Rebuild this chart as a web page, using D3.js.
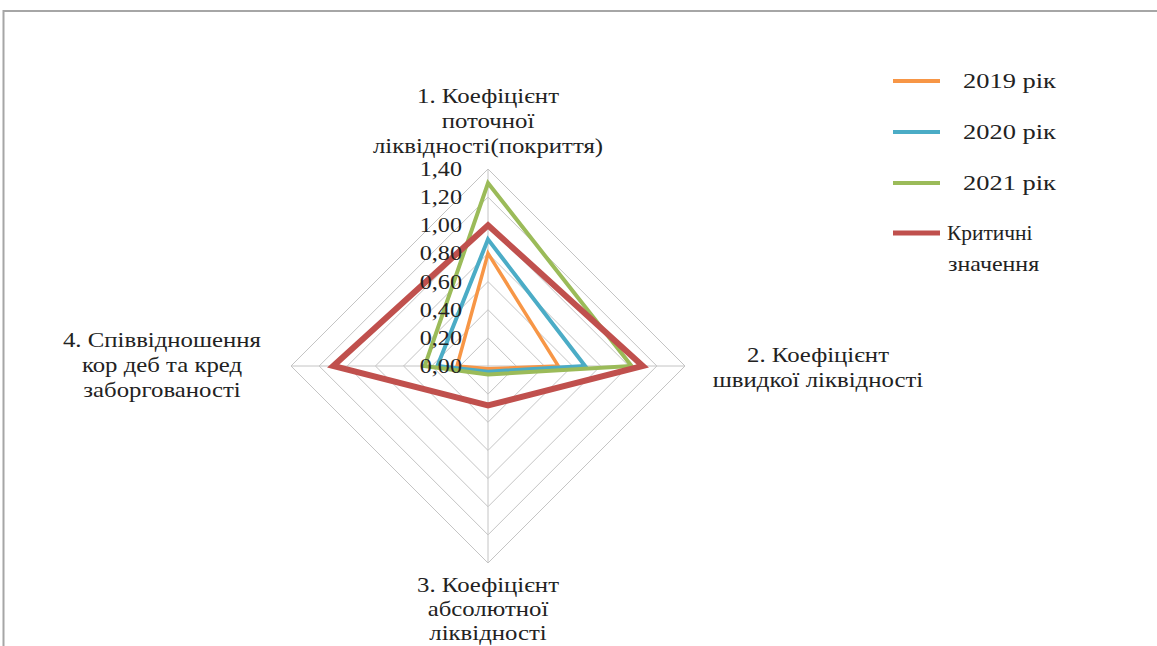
<!DOCTYPE html>
<html><head><meta charset="utf-8">
<script src="https://cdn.jsdelivr.net/npm/d3@7/dist/d3.min.js"></script>
<style>body{margin:0;background:#fff}svg{display:block}</style>
</head><body>
<svg id="chart" width="1157" height="646"></svg>
<script>
const categories = [
  ["1. Коефіцієнт", "поточної", "ліквідності(покриття)"],
  ["2. Коефіцієнт", "швидкої ліквідності"],
  ["3. Коефіцієнт", "абсолютної", "ліквідності"],
  ["4. Співвідношення", "кор деб та кред", "заборгованості"]
];
const seriesNames = ["2019 рік", "2020 рік", "2021 рік", "Критичні значення"];
const values2019 = [0.80, 0.50, 0.02, 0.22];
const values2020 = [0.90, 0.69, 0.04, 0.36];
const values2021 = [1.30, 1.02, 0.06, 0.45];
const valuesCritical = [1.00, 1.10, 0.28, 1.10];
const tickValues = [0, 0.2, 0.4, 0.6, 0.8, 1.0, 1.2, 1.4];
const tickLabels = ["0,00", "0,20", "0,40", "0,60", "0,80", "1,00", "1,20", "1,40"];

const colors = ["#F79646", "#4BACC6", "#9BBB59", "#C0504D"];
const widths = [3.5, 4, 4, 6];
const allSeries = [values2019, values2020, values2021, valuesCritical];

const svg = d3.select("#chart");
const cx = 488, cy = 366, R = 197;
const r = d3.scaleLinear().domain([0, 1.4]).range([0, R]);
const angle = d3.scaleLinear().domain([0, categories.length]).range([0, 2 * Math.PI]);
const pt = (i, v) => [cx + r(v) * Math.sin(angle(i)), cy - r(v) * Math.cos(angle(i))];

// frame
svg.append("rect").attr("x", 3.5).attr("y", 11).attr("width", 1170).attr("height", 700)
  .attr("fill", "none").attr("stroke", "#a6a6a6").attr("stroke-width", 2);

const g = svg.append("g");
// rings
tickValues.slice(1).forEach(t => {
  g.append("path")
    .attr("d", d3.line()(categories.map((c, i) => pt(i, t))) + "Z")
    .attr("fill", "none").attr("stroke", "#c4c4c4").attr("stroke-width", 1);
});
// spokes
categories.forEach((c, i) => {
  const p = pt(i, 1.4);
  g.append("line").attr("x1", cx).attr("y1", cy).attr("x2", p[0]).attr("y2", p[1])
    .attr("stroke", "#c4c4c4").attr("stroke-width", 1);
});

// series
const line = d3.line().curve(d3.curveLinearClosed);
allSeries.forEach((vals, s) => {
  g.append("path")
    .attr("d", line(vals.map((v, i) => pt(i, v))))
    .attr("fill", "none").attr("stroke", colors[s]).attr("stroke-width", widths[s])
    .attr("stroke-linejoin", "miter");
});

const font = "Liberation Serif, Times New Roman, serif";
function stext(x, y, txt, size, anchor, sx) {
  return svg.append("text")
    .attr("transform", `translate(${x},${y}) scale(${sx},1)`)
    .attr("text-anchor", anchor)
    .attr("dominant-baseline", "central")
    .attr("font-family", font).attr("font-size", size).attr("fill", "#222")
    .text(txt);
}

// tick labels
tickValues.forEach((t, k) => {
  stext(cx - 26, cy - r(t), tickLabels[k], 21, "end", 1.15);
});

// category labels
const labelPos = [[488, 96, 25], [818, 355, 25], [488, 585, 24], [162, 340, 25]];
categories.forEach((lines, i) => {
  lines.forEach((ln, j) => {
    stext(labelPos[i][0], labelPos[i][1] + j * labelPos[i][2], ln, 20, "middle", 1.24);
  });
});

// legend
const legY = [81, 132, 183, 233];
seriesNames.forEach((name, s) => {
  svg.append("line").attr("x1", 893).attr("x2", 940).attr("y1", legY[s]).attr("y2", legY[s])
    .attr("stroke", colors[s]).attr("stroke-width", s === 3 ? 5 : 4);
  if (s < 3) {
    stext(963, legY[s], name, 21, "start", 1.26);
  } else {
    const parts = name.split(" ");
    stext(947, legY[s], parts[0], 21, "start", 1.02);
    stext(948, legY[s] + 31, parts[1], 21, "start", 1.14);
  }
});
</script>
</body></html>
